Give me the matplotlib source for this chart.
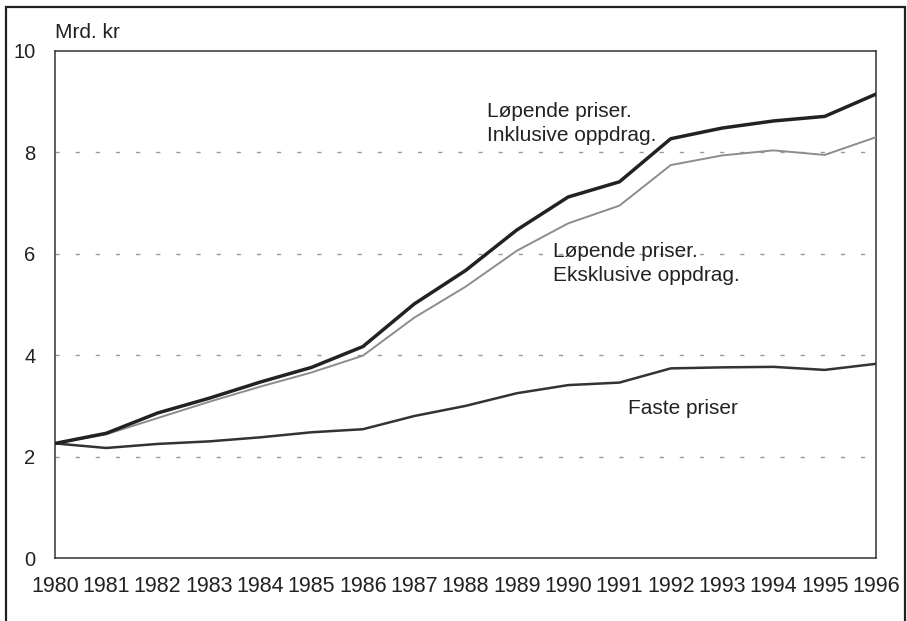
import matplotlib
matplotlib.use("Agg")
import matplotlib.pyplot as plt
from matplotlib.patches import Rectangle

years = list(range(1980, 1997))
inkl = [2.26, 2.46, 2.86, 3.15, 3.47, 3.76, 4.17, 5.01, 5.67, 6.47, 7.12, 7.42, 8.27, 8.48, 8.62, 8.71, 9.15]
ekskl = [2.26, 2.44, 2.76, 3.08, 3.38, 3.66, 3.99, 4.74, 5.35, 6.06, 6.60, 6.95, 7.75, 7.94, 8.04, 7.95, 8.30]
faste = [2.26, 2.17, 2.25, 2.30, 2.38, 2.48, 2.54, 2.80, 3.00, 3.25, 3.41, 3.46, 3.74, 3.76, 3.77, 3.71, 3.83]
yticks = [0, 2, 4, 6, 8, 10]
unit_label = "Mrd. kr"
label_inkl = ["Løpende priser.", "Inklusive oppdrag."]
label_ekskl = ["Løpende priser.", "Eksklusive oppdrag."]
label_faste = "Faste priser"

plt.rcParams['font.family'] = ['Liberation Sans', 'DejaVu Sans']

W, H = 907, 621
fig = plt.figure(figsize=(W / 100, H / 100), dpi=100)
L, R, T, B = 55, 876, 51, 558
ax = fig.add_axes([L / W, 1 - B / H, (R - L) / W, (B - T) / H])

for g in [2, 4, 6, 8]:
    ln, = ax.plot([1980, 1996], [g, g], color='#999999', lw=1.0, zorder=1)
    ln.set_dashes((3, 11.5))
    ln.set_dash_capstyle('butt')

ax.plot(years, faste, color='#333333', lw=1.8, zorder=3)
ax.plot(years, ekskl, color='#8c8c8c', lw=1.4, zorder=3)
ax.plot(years, inkl, color='#222222', lw=2.5, zorder=4)

ax.set_xlim(1980, 1996)
ax.set_ylim(0, 10)
ax.set_xticks(years)
ax.set_xticklabels([str(y) for y in years], fontsize=15.5, color='#222222')
ax.set_yticks(yticks)
ax.set_yticklabels([str(v) for v in yticks], fontsize=14.5, color='#222222')
ax.tick_params(axis='both', length=0)
ax.tick_params(axis='x', pad=13)
ax.tick_params(axis='y', pad=14)
for s in ax.spines.values():
    s.set_linewidth(1.1)
    s.set_color('#333333')

tkw = dict(fontsize=15, color='#222222', va='center', ha='left', zorder=5)
ax.text(1988.41, 8.80, label_inkl[0], **tkw)
ax.text(1988.41, 8.34, label_inkl[1], **tkw)
ax.text(1989.71, 6.04, label_ekskl[0], **tkw)
ax.text(1989.71, 5.58, label_ekskl[1], **tkw)
ax.text(1991.17, 2.95, label_faste, **tkw)

fig.text(L / W, 1 - 33 / H, unit_label, fontsize=15, color='#222222', va='center', ha='left')

fig.patches.append(Rectangle((6 / W, -0.1), (905 - 6) / W, 1 - 7 / H + 0.1,
                             transform=fig.transFigure, fill=False, lw=1.6,
                             edgecolor='#222222'))

fig.savefig("out.png", dpi=100)
